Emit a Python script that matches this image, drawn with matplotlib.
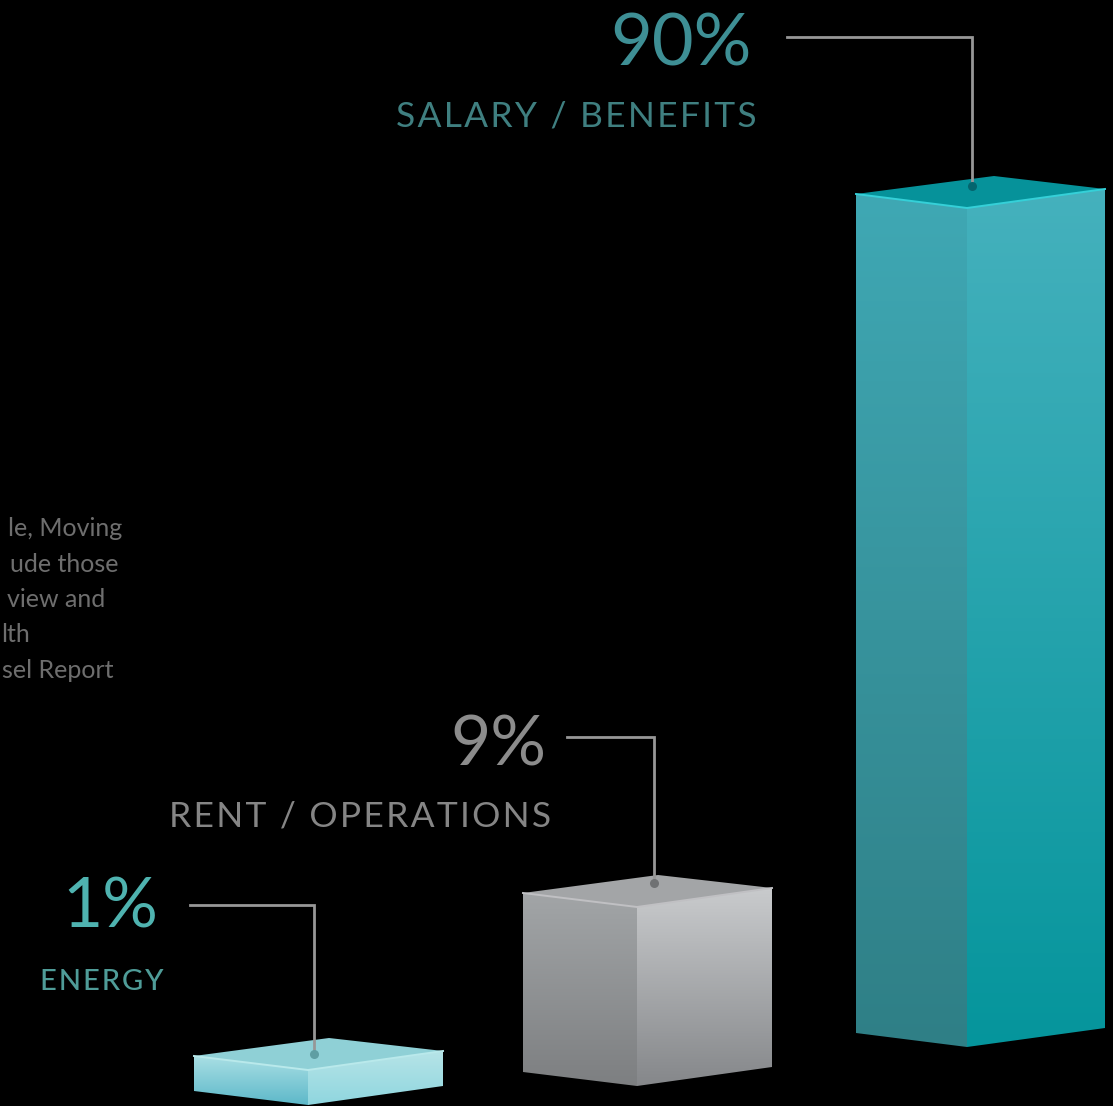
import numpy as np
import matplotlib
matplotlib.use("Agg")
import matplotlib.pyplot as plt
from matplotlib.colors import LinearSegmentedColormap
from matplotlib.patches import Polygon

# data
categories = ["ENERGY", "RENT / OPERATIONS", "SALARY / BENEFITS"]
values = [1, 9, 90]
value_labels = ["1%", "9%", "90%"]
note_lines = ["le, Moving", "ude those", "view and", "lth", "sel Report"]

# the bars in the picture are not to scale, so map value -> pixel height
SCALE_VALUES = [0, 1, 9, 90]
SCALE_PIXELS = [0, 35, 179, 839]

# layout, in pixels of the 1113x1106 picture
BAR_LEFT = [194, 523, 856]
BAR_BOTTOM = [1105, 1086, 1047]
BAR_WIDTH = 249
FRONT_DX = [114, 114, 111]
LEFT_DY, RIGHT_DY, BACK_DY = 14, 19, 32

LEADER_X0 = [190, 567, 787]
LEADER_X1 = [314, 654, 972]
LEADER_Y = [905, 737, 37]
LEADER_END = [1054, 883, 186]

PCT_RIGHT = [158, 546, 752]
PCT_BASE = [927, 765, 65]
CAT_RIGHT = [164, 551, 757]
CAT_BASE = [990, 826, 126]
PCT_SIZE = [50, 50, 52]
CAT_SIZE = [21, 25.5, 25.5]
CAT_WEIGHT = ["medium", "normal", "normal"]

NOTE_RIGHT = [122, 118, 105, 30, 113]
NOTE_BASE = [536, 572, 607, 642, 678]

# colours: (left top, left bottom, right top, right bottom, top face, edge)
BAR_COLORS = [
    ("#a9dfe4", "#5db8c9", "#b6e4e7", "#8fd6df", "#8fd0d6", "#b9e9eb"),
    ("#a2a5a7", "#7d7f81", "#c9cbcd", "#85878a", "#a3a5a7", "#c0c0c3"),
    ("#3fa8b4", "#2f7f86", "#45b1bd", "#05959c", "#06929a", "#35d0d8"),
]
PCT_COLORS = ["#4fb3b0", "#8c8c8c", "#3e8f95"]
CAT_COLORS = ["#4f9c98", "#858585", "#3f7f80"]
LEADER_COLOR = "#979797"
DOT_COLORS = ["#5f9ea3", "#6f7173", "#04656e"]


def bar_height(v):
    return np.interp(v, SCALE_VALUES, SCALE_PIXELS)


def gradient_face(ax, pts, c_top, c_bottom):
    pts = np.array(pts, dtype=float)
    cmap = LinearSegmentedColormap.from_list("face", [c_top, c_bottom])
    grad = np.linspace(0, 1, 256).reshape(-1, 1)
    x0, x1 = pts[:, 0].min(), pts[:, 0].max()
    y0, y1 = pts[:, 1].min(), pts[:, 1].max()
    im = ax.imshow(grad, cmap=cmap, extent=(x0, x1, y1, y0), aspect="auto", zorder=2)
    poly = Polygon(pts, closed=True, transform=ax.transData, fc="none", ec="none")
    ax.add_patch(poly)
    im.set_clip_path(poly)


def tracked(s):
    # the caption is letter-spaced in the picture, hair spaces give about the same
    return "\u200a".join(s)


fig = plt.figure(figsize=(11.13, 11.06), dpi=100, facecolor="black")
ax = fig.add_axes([0, 0, 1, 1])
ax.set_facecolor("black")

for i, v in enumerate(values):
    h = bar_height(v)
    colors = BAR_COLORS[i]
    left = BAR_LEFT[i]
    right = left + BAR_WIDTH
    front = left + FRONT_DX[i]
    back = left + right - front
    bottom = BAR_BOTTOM[i]
    top = bottom - h

    gradient_face(ax, [(left, top - LEFT_DY), (front, top), (front, bottom), (left, bottom - LEFT_DY)],
                  colors[0], colors[1])
    gradient_face(ax, [(front, top), (right, top - RIGHT_DY), (right, bottom - RIGHT_DY), (front, bottom)],
                  colors[2], colors[3])
    ax.add_patch(Polygon([(left, top - LEFT_DY), (back, top - BACK_DY), (right, top - RIGHT_DY), (front, top)],
                         closed=True, fc=colors[4], ec="none", zorder=3))
    ax.plot([left, front, right], [top - LEFT_DY, top, top - RIGHT_DY], color=colors[5], lw=1.4, zorder=4)

    # leader line
    ax.plot([LEADER_X0[i], LEADER_X1[i], LEADER_X1[i]], [LEADER_Y[i], LEADER_Y[i], LEADER_END[i]],
            color=LEADER_COLOR, lw=2, solid_joinstyle="miter", zorder=5)
    ax.plot(LEADER_X1[i], LEADER_END[i], "o", ms=6.5, color=DOT_COLORS[i], mec="none", zorder=6)

    # labels
    ax.text(PCT_RIGHT[i], PCT_BASE[i], value_labels[i], ha="right", va="baseline", family=["Lato", "DejaVu Sans"],
            fontsize=PCT_SIZE[i], color=PCT_COLORS[i])
    ax.text(CAT_RIGHT[i], CAT_BASE[i], tracked(categories[i]), ha="right", va="baseline",
            family=["Lato", "DejaVu Sans"], fontsize=CAT_SIZE[i], color=CAT_COLORS[i], weight=CAT_WEIGHT[i])

for line, x, y in zip(note_lines, NOTE_RIGHT, NOTE_BASE):
    ax.text(x, y, line, ha="right", va="baseline", family="Lato", fontsize=18, color="#6e6e6e")

ax.set_xlim(0, 1113)
ax.set_ylim(1106, 0)
ax.axis("off")

fig.savefig("out.png", dpi=100, facecolor="black")
